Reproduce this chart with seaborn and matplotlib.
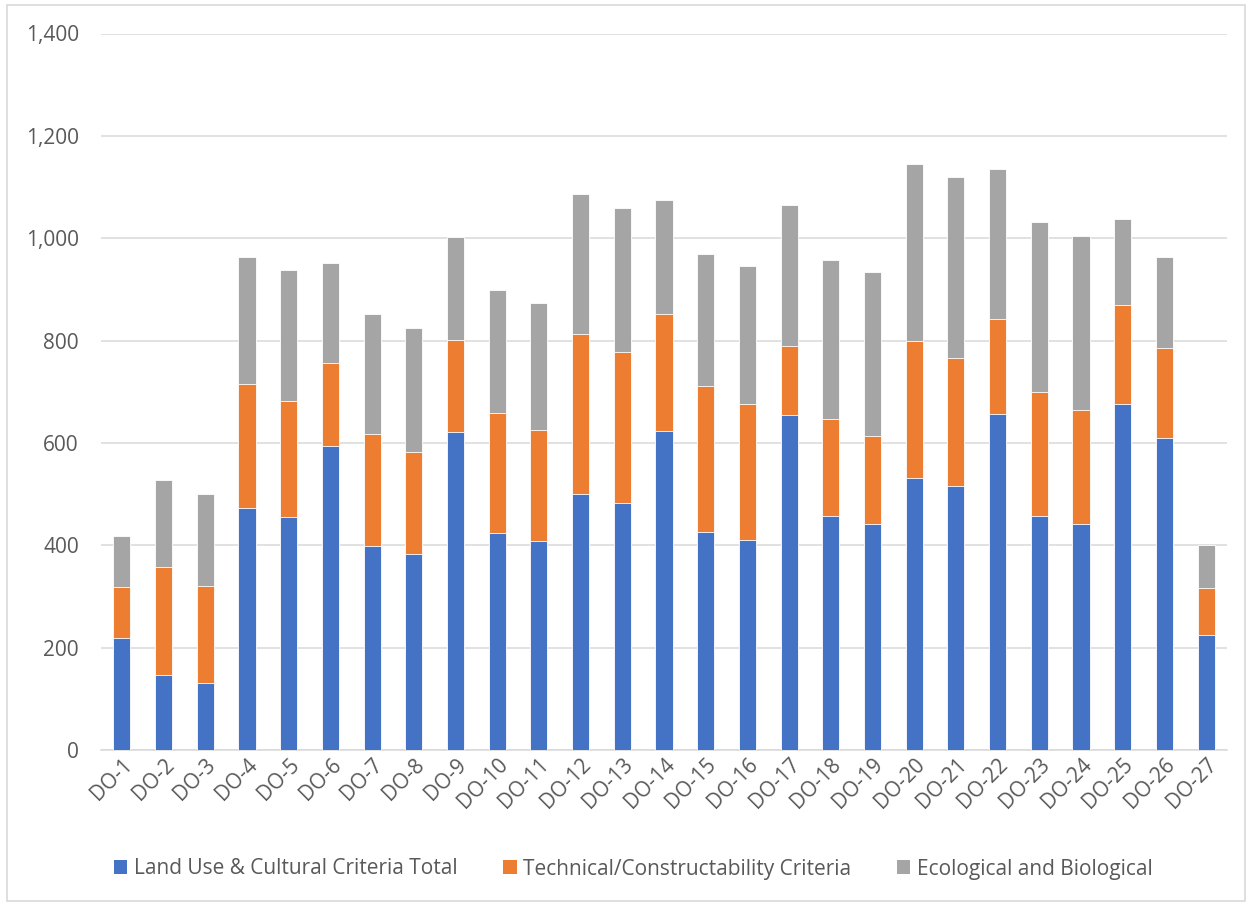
import matplotlib
matplotlib.use("Agg")
import matplotlib.pyplot as plt
import seaborn as sns
import pandas as pd
import numpy as np
from matplotlib.patches import Patch, Rectangle

categories = [f"DO-{i}" for i in range(1, 28)]
land_use = [219, 147, 130, 472, 456, 594, 398, 382, 622, 424, 408, 500, 483, 623,
            425, 410, 654, 457, 441, 531, 516, 656, 458, 442, 676, 609, 224]
technical = [99, 210, 190, 243, 226, 162, 219, 200, 179, 234, 217, 312, 295, 228,
             286, 266, 136, 190, 173, 269, 250, 186, 241, 223, 194, 177, 92]
ecological = [101, 171, 180, 248, 256, 196, 234, 243, 201, 240, 249, 274, 282, 223,
              258, 269, 274, 311, 320, 345, 353, 293, 333, 340, 167, 178, 84]
series_names = ["Land Use & Cultural Criteria Total",
                "Technical/Constructability Criteria",
                "Ecological and Biological"]
colors = ["#4472C4", "#ED7D31", "#A5A5A5"]
yticks = [0, 200, 400, 600, 800, 1000, 1200, 1400]

df = pd.DataFrame({"cat": categories, "a": land_use, "b": technical, "c": ecological})
df["ab"] = df["a"] + df["b"]
df["abc"] = df["ab"] + df["c"]

sns.set_style("white")
plt.rcParams["font.family"] = ["Open Sans", "DejaVu Sans"]
txt = "#595959"
fs = 15

fig = plt.figure(figsize=(12.52, 9.06), dpi=100)
ax = fig.add_axes([101/1252, 1-750/906, (1227-101)/1252, (750-33.5)/906])

for col, c in zip(["abc", "ab", "a"], [colors[2], colors[1], colors[0]]):
    sns.barplot(data=df, x="cat", y=col, color=c, width=0.41, ax=ax,
                edgecolor="white", linewidth=0.6, saturation=1, zorder=3)

ax.set_ylim(0, 1400)
ax.set_xlim(-0.5, 26.5)
ax.set_yticks(yticks)
ax.set_yticklabels([f"{v:,}" for v in yticks], fontsize=fs, color=txt)
ax.grid(axis="y", color="#D9D9D9", linewidth=1.1, zorder=0)
ax.set_axisbelow(True)
for s in ["top", "right", "left"]:
    ax.spines[s].set_visible(False)
ax.spines["bottom"].set_color("#D9D9D9")
ax.spines["bottom"].set_linewidth(1.1)
ax.tick_params(axis="y", length=0, pad=16)
ax.tick_params(axis="x", length=0, pad=3)
ax.set_xlabel("")
ax.set_ylabel("")
ax.set_xticks(range(len(categories)))
ax.set_xticklabels(categories, rotation=45, ha="right", rotation_mode="anchor",
                   fontsize=fs, color=txt)

handles = [Patch(facecolor=c, edgecolor="none") for c in colors]
fig.legend(handles, series_names, loc="center", bbox_to_anchor=(633/1252, 1-869/906),
           ncol=3, frameon=False, fontsize=fs, labelcolor=txt,
           handlelength=0.65, handleheight=0.65, handletextpad=0.3, columnspacing=2.2)

fig.patches.append(Rectangle((7/1252, 1-901/906), (1245-7)/1252, (901-5)/906,
                             transform=fig.transFigure, fill=False,
                             edgecolor="#D9D9D9", linewidth=1.2))

fig.savefig("out.png", dpi=100, facecolor="white")
